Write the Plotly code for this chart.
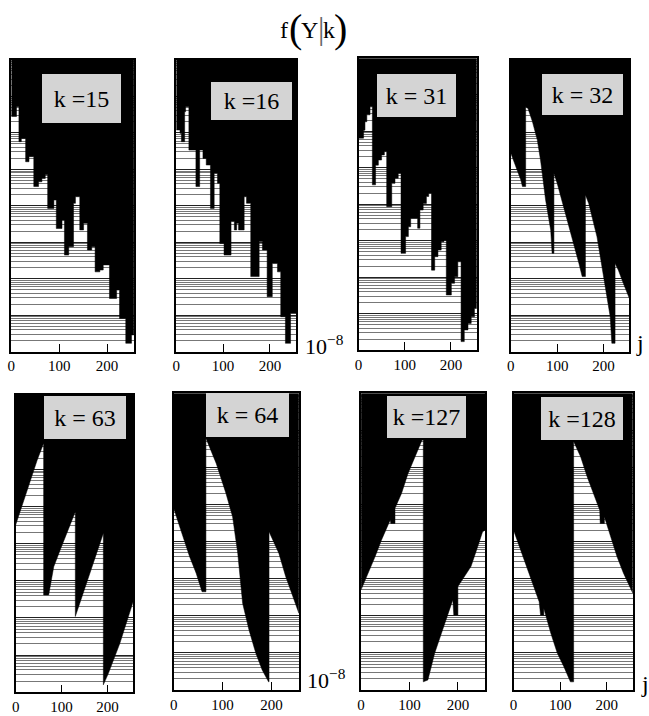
import plotly.graph_objects as go

# ---- data: boundary of the black region, log10 f(Y|k) versus j ----
j_k15 = [0, 11, 16, 21, 30, 37, 47, 57, 64, 71, 76, 89, 94, 106, 111, 120, 130, 134, 143, 151, 159, 168, 175, 185, 192, 205, 220, 226, 239, 251, 256]
e_k15 = [-1.55, -1.28, -2.24, -2.15, -2.79, -2.65, -3.47, -3.34, -3.25, -3.15, -4.07, -3.84, -4.62, -4.39, -5.35, -5.12, -3.93, -3.75, -4.66, -4.48, -5.21, -5.12, -5.81, -5.76, -5.62, -6.54, -6.31, -7.09, -7.77, -7.54, -7.54]

j_k16 = [0, 8, 11, 18, 20, 27, 42, 50, 57, 64, 73, 81, 88, 93, 102, 117, 124, 129, 133, 145, 150, 159, 177, 184, 194, 205, 216, 223, 233, 244, 256]
e_k16 = [-1.92, -2.01, -2.24, -1.42, -1.28, -2.47, -3.47, -2.47, -2.70, -2.88, -4.07, -3.11, -3.38, -5.03, -5.35, -4.43, -4.66, -4.48, -4.66, -3.75, -3.93, -5.94, -4.98, -5.21, -6.49, -5.58, -5.81, -7.04, -7.77, -6.95, -6.95]

j_k31 = [0, 11, 14, 18, 25, 30, 37, 43, 50, 56, 61, 72, 79, 86, 92, 102, 108, 113, 128, 133, 140, 147, 152, 158, 165, 172, 179, 185, 190, 201, 208, 215, 222, 229, 237, 244, 251, 256]
e_k31 = [-2.19, -1.97, -1.74, -1.55, -1.33, -3.47, -2.93, -2.79, -2.65, -2.56, -4.07, -3.43, -3.29, -3.15, -5.35, -4.89, -4.62, -4.39, -4.66, -4.16, -3.98, -3.79, -3.70, -5.81, -5.44, -5.26, -5.03, -4.98, -6.49, -6.17, -5.99, -5.58, -7.77, -7.45, -7.27, -7.09, -6.86, -6.86]

j_k32 = [0, 21.5, 25, 32, 32, 37, 46.5, 57, 64, 75, 86, 89, 93, 93, 100, 114, 129, 147, 154, 161, 161, 168, 186, 200, 214.5, 218, 225, 225, 232, 243, 256]
e_k32 = [-2.56, -3.29, -3.47, -3.47, -1.28, -1.33, -1.69, -2.19, -2.74, -3.84, -4.66, -5.30, -5.30, -3.11, -3.38, -4.02, -4.75, -5.58, -5.94, -5.94, -3.70, -3.93, -4.85, -5.94, -7.04, -7.77, -7.77, -5.58, -5.76, -6.13, -6.54]

j_k63 = [0, 18, 32, 47, 61, 61, 72, 83, 97, 112, 130, 130, 137, 162, 177, 191, 191, 202, 227, 241, 256]
e_k63 = [-3.50, -2.83, -2.29, -1.75, -1.30, -5.38, -5.38, -4.62, -4.17, -3.72, -3.14, -5.96, -5.70, -4.80, -4.26, -3.72, -7.80, -7.49, -6.68, -6.14, -5.56]

j_k64 = [0, 19, 32.5, 46, 58, 66, 66, 87, 107, 120.5, 131, 141, 154, 168, 181, 194, 195, 195, 215, 229, 242, 256]
e_k64 = [-3.10, -3.87, -4.40, -4.85, -5.35, -5.35, -1.21, -1.89, -2.70, -3.33, -4.31, -5.66, -6.38, -7.01, -7.46, -7.78, -7.78, -3.73, -4.31, -4.94, -5.39, -5.93]

j_k127 = [0, 15, 29, 42, 60, 61.5, 70, 70, 83.5, 97, 111, 126, 128.5, 128.5, 138, 152, 166, 189.5, 191.5, 200, 200, 227, 241, 251, 256]
e_k127 = [-5.30, -4.85, -4.40, -3.96, -3.42, -3.51, -3.51, -3.10, -2.70, -2.16, -1.71, -1.26, -1.26, -7.78, -7.73, -7.01, -6.47, -5.57, -5.98, -5.98, -5.21, -4.67, -4.13, -3.73, -3.69]

j_k128 = [0, 23, 37, 55, 58, 65, 65, 80, 94, 108, 122, 129, 129, 144, 158, 172, 185, 186, 195, 195, 208, 222, 236, 256]
e_k128 = [-3.69, -4.49, -5.03, -5.62, -5.98, -5.98, -5.80, -6.47, -7.01, -7.37, -7.78, -7.78, -1.30, -1.71, -2.25, -2.70, -3.15, -3.51, -3.51, -3.33, -3.87, -4.40, -4.85, -5.39]

k_labels = ["k =15", "k =16", "k = 31", "k = 32", "k = 63", "k = 64", "k =127", "k =128"]
x_ticks = [0, 100, 200]

series = [(j_k15, e_k15, "hv"), (j_k16, e_k16, "hv"), (j_k31, e_k31, "hv"), (j_k32, e_k32, "linear"),
          (j_k63, e_k63, "linear"), (j_k64, e_k64, "linear"), (j_k127, e_k127, "linear"), (j_k128, e_k128, "linear")]

# ---- layout geometry (pixels) ----
W, H = 649, 716
frames = [(7.3, 130.7, 60, 351.7), (173.3, 294, 60, 351.7), (356.7, 475.7, 58.3, 350), (510, 629.3, 60, 351.7),
          (11.7, 130, 395, 692.3), (170.7, 296.7, 393.3, 690), (359.3, 484, 393.3, 690), (512.7, 632.7, 393.3, 690)]
boxes = [(38, 117, 74, 123), (209, 290, 82, 120), (376, 455, 74, 117), (542, 623, 74, 115),
         (41, 123, 396, 439), (204, 287, 393, 437), (386, 465, 396, 438), (541, 623, 397, 440)]

SERIF = "Liberation Serif"
fig = go.Figure()
layout = dict(width=W, height=H, margin=dict(l=0, r=0, t=0, b=0),
              paper_bgcolor="white", plot_bgcolor="white", showlegend=False)
annotations = []

for i, ((jj, ee, shape), (x0, x1, y0, y1), (bx0, bx1, by0, by1), lab) in enumerate(zip(series, frames, boxes, k_labels)):
    n = i + 1
    xs = "" if n == 1 else str(n)
    xv = list(jj) + [256, 0]
    yv = [10 ** e for e in ee] + [1, 1]
    fig.add_trace(go.Scatter(x=xv, y=yv, mode="lines", fill="toself", fillcolor="black",
                             line=dict(color="black", width=0.5, shape=shape),
                             xaxis="x" + xs, yaxis="y" + xs, hoverinfo="skip"))
    layout["xaxis" + xs] = dict(domain=[x0 / W, x1 / W], range=[0, 256], tickvals=x_ticks,
                                ticks="inside", ticklen=8, tickwidth=1.2, tickcolor="black",
                                showline=True, mirror=True, linecolor="black", linewidth=1.5,
                                showgrid=False, zeroline=False, anchor="y" + xs,
                                tickfont=dict(family=SERIF, size=15, color="black"))
    layout["yaxis" + xs] = dict(domain=[1 - y1 / H, 1 - y0 / H], type="log", range=[-8, 0], dtick=1,
                                showticklabels=False, ticks="", showgrid=True, gridcolor="#222", gridwidth=1,
                                minor=dict(dtick="D1", showgrid=True, gridcolor="#777", gridwidth=1),
                                showline=True, mirror=True, linecolor="black", linewidth=1.5,
                                zeroline=False, anchor="x" + xs)
    annotations.append(dict(xref="paper", yref="paper", x=(bx0 + bx1) / 2 / W, y=1 - (by0 + by1) / 2 / H,
                            xanchor="center", yanchor="middle", width=bx1 - bx0, height=by1 - by0,
                            text=lab, showarrow=False, bgcolor="#d4d4d4", borderpad=0, borderwidth=0,
                            font=dict(family=SERIF, size=24, color="black")))

def txt(t, x, y, size, color="black"):
    return dict(xref="paper", yref="paper", x=x / W, y=1 - y / H, xanchor="center", yanchor="middle",
                text=t, showarrow=False, font=dict(family=SERIF, size=size, color=color))

# title f(Y|k)
annotations.append(txt("f", 282, 30, 24))
annotations.append(txt("(", 293, 28, 40))
annotations.append(txt("Y", 307, 30, 24))
annotations.append(txt("|", 318.5, 28, 32, "#666"))
annotations.append(txt("k", 327, 30, 24))
annotations.append(txt(")", 339, 28, 40))
# axis end labels
annotations.append(txt("10<sup>−8</sup>", 322, 345, 22))
annotations.append(txt("10<sup>−8</sup>", 324, 679, 22))
annotations.append(txt("j", 640, 343, 24))
annotations.append(txt("j", 645, 684, 24))

layout["annotations"] = annotations
fig.update_layout(**layout)
fig.write_html("out.html", config={"displayModeBar": False},
               post_script="document.body.style.margin='0';document.body.style.overflow='hidden';")
